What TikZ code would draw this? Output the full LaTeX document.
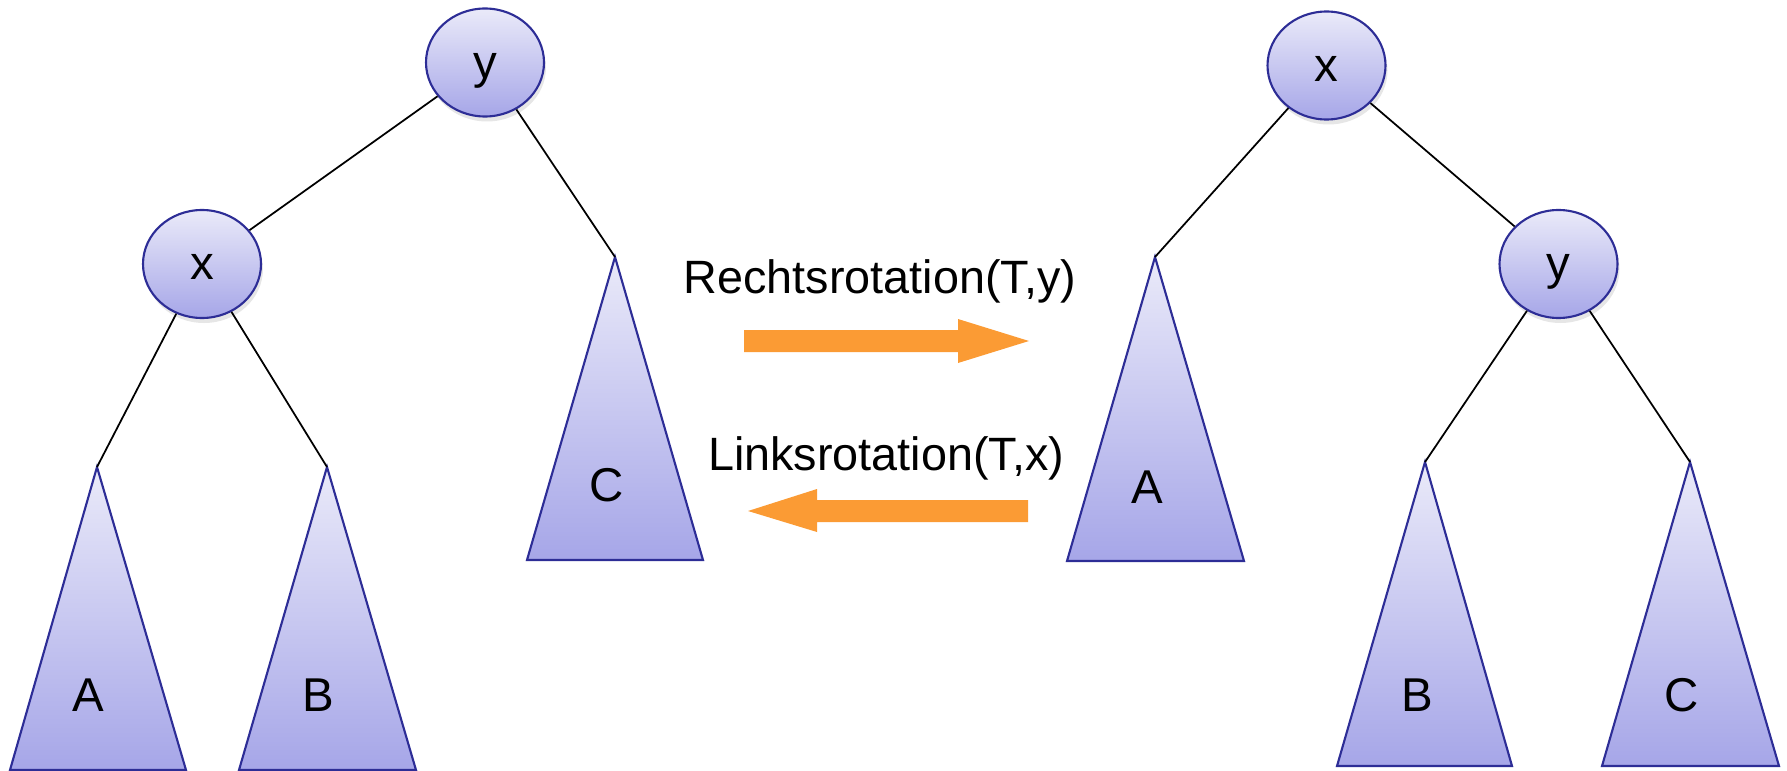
\documentclass[tikz,border=0pt]{standalone}
\usepackage{fontspec}
\setmainfont{Liberation Sans}
\usetikzlibrary{positioning, shapes.geometric, shadows}
\definecolor{treeblue}{RGB}{45,45,150}
\definecolor{shadetop}{RGB}{234,234,249}
\definecolor{shadebot}{RGB}{166,166,232}
\definecolor{rotorange}{RGB}{251,155,52}
\tikzset{
keynode/.style={ellipse, draw=treeblue, line width=0.6pt, top color=shadetop, bottom color=shadebot,
  minimum width=1.18cm, minimum height=1.08cm, inner sep=0pt, text height=1.05em, text depth=0.15em,
  font=\fontsize{13.5}{16}\selectfont,
  drop shadow={opacity=0.2, shadow xshift=0.2mm, shadow yshift=-0.5mm}},
subtree/.style={draw=treeblue, line width=0.6pt, top color=shadetop, bottom color=shadebot},
treeline/.style={draw, line width=0.5pt},
leaftext/.style={font=\fontsize{13.5}{16}\selectfont},
rotlabel/.style={anchor=base, font=\fontsize{13.3}{16}\selectfont},
rotarrow/.style={fill=rotorange},
}

\begin{document}
\begin{tikzpicture}
    \useasboundingbox (0,0) rectangle (17.87,-7.71);

    %apexes of the subtrees, left side
    \coordinate (lA) at (0.97,-4.67);
    \coordinate (lB) at (3.27,-4.67);
    \coordinate (lC) at (6.15,-2.57);

    %apexes of the subtrees, right side
    \coordinate (rA) at (11.55,-2.57);
    \coordinate (rB) at (14.25,-4.62);
    \coordinate (rC) at (16.90,-4.62);

    %subtrees left
    \draw[subtree] (lA) -- ++(-0.87,-3.03) -- ++(1.76,0) -- cycle;
    \draw[subtree] (lB) -- ++(-0.88,-3.03) -- ++(1.77,0) -- cycle;
    \draw[subtree] (lC) -- ++(-0.88,-3.03) -- ++(1.76,0) -- cycle;
    \node[leaftext] (lAtext) at (0.88,-6.95) {A};
    \node[leaftext] (lBtext) at (3.18,-6.95) {B};
    \node[leaftext] (lCtext) at (6.07,-4.85) {C};

    %subtrees right
    \draw[subtree] (rA) -- ++(-0.88,-3.04) -- ++(1.77,0) -- cycle;
    \draw[subtree] (rB) -- ++(-0.88,-3.04) -- ++(1.75,0) -- cycle;
    \draw[subtree] (rC) -- ++(-0.88,-3.04) -- ++(1.77,0) -- cycle;
    \node[leaftext] (rAtext) at (11.47,-4.87) {A};
    \node[leaftext] (rBtext) at (14.17,-6.95) {B};
    \node[leaftext] (rCtext) at (16.82,-6.95) {C};

    %inner nodes
    \node[keynode] (ly) at (4.85,-0.625) {y};
    \node[keynode] (lx) at (2.02,-2.64) {x};
    \node[keynode] (rx) at (13.265,-0.655) {x};
    \node[keynode] (ry) at (15.585,-2.64) {y};

    %tree lines
    \draw[treeline] (ly) -- (lx);
    \draw[treeline] (ly) -- (lC);
    \draw[treeline] (lx) -- (lA);
    \draw[treeline] (lx) -- (lB);
    \draw[treeline] (rx) -- (rA);
    \draw[treeline] (rx) -- (ry);
    \draw[treeline] (ry) -- (rB);
    \draw[treeline] (ry) -- (rC);

    %rotations
    \node[rotlabel] (rechts) at (8.80,-2.93) {Rechtsrotation(T,y)};
    \node[rotlabel] (links)  at (8.86,-4.70) {Linksrotation(T,x)};
    \fill[rotarrow] (7.44,-3.30) -- (9.58,-3.30) -- (9.58,-3.19) -- (10.29,-3.41)
        -- (9.58,-3.63) -- (9.58,-3.52) -- (7.44,-3.52) -- cycle;
    \fill[rotarrow] (7.48,-5.11) -- (8.17,-4.89) -- (8.17,-5.00) -- (10.28,-5.00)
        -- (10.28,-5.22) -- (8.17,-5.22) -- (8.17,-5.32) -- cycle;
\end{tikzpicture}
\end{document}
